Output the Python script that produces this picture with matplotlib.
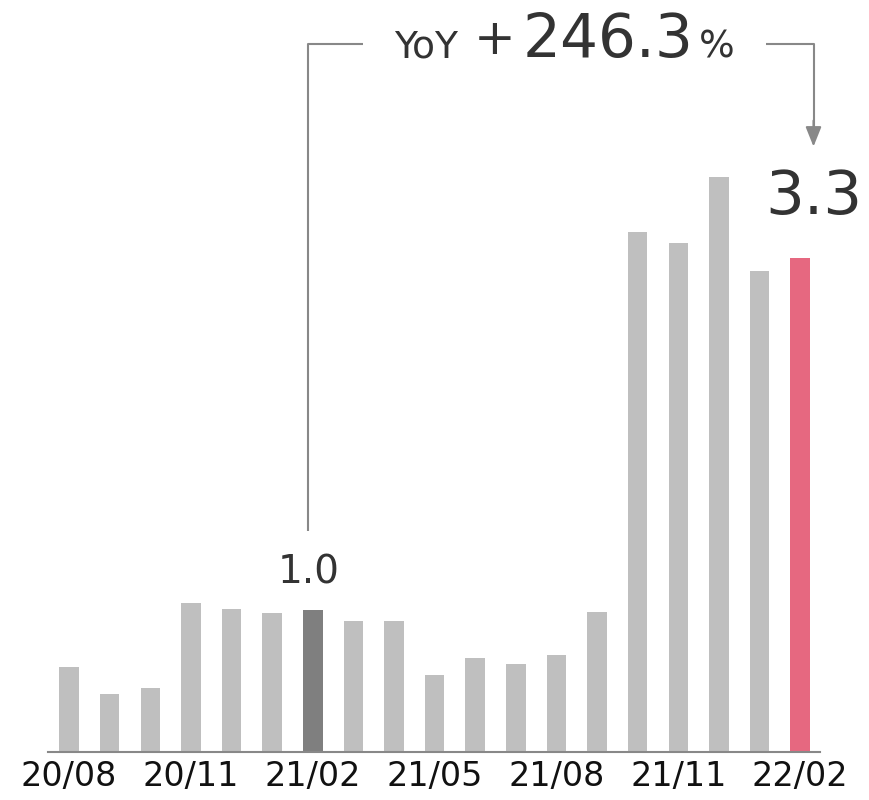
import matplotlib
matplotlib.use("Agg")
import matplotlib.pyplot as plt
import numpy as np

months = ["20/08", "20/09", "20/10", "20/11", "20/12", "21/01", "21/02",
          "21/03", "21/04", "21/05", "21/06", "21/07", "21/08", "21/09",
          "21/10", "21/11", "21/12", "22/01", "22/02"]
values = [0.63, 0.45, 0.49, 1.05, 1.01, 0.98, 1.0,
          0.93, 0.93, 0.58, 0.69, 0.65, 0.71, 0.99,
          3.47, 3.40, 3.83, 3.22, 3.3]
base_idx = 6      # 21/02, the comparison month
last_idx = 18     # 22/02
yoy_text = "246.3"

light = "#bfbfbf"
dark = "#7f7f7f"
pink = "#e66880"
line_col = "#888888"
txt_col = "#333333"

colors = [light] * len(values)
colors[base_idx] = dark
colors[last_idx] = pink

fig = plt.figure(figsize=(8.7, 8), dpi=100)
ax = fig.add_axes([48 / 870, 48 / 800, 772 / 870, 752 / 800])

x = np.arange(len(values))
ax.bar(x, values, width=0.48, color=colors)

ax.set_xlim(-0.52, 18.49)
ax.set_ylim(0.074, 4.988)

for s in ["top", "right", "left"]:
    ax.spines[s].set_visible(False)
ax.spines["bottom"].set_color(line_col)
ax.spines["bottom"].set_linewidth(1.5)
ax.set_yticks([])
ax.set_xticks(x[::3])
ax.set_xticklabels(months[::3], fontsize=24, color="#111111")
ax.tick_params(axis="x", length=0, pad=6)

# value labels
ax.annotate(f"{values[base_idx]:.1f}", xy=(base_idx - 0.11, values[base_idx]),
            xytext=(0, 19.5), textcoords="offset points",
            ha="center", va="baseline", fontsize=28, color=txt_col)
ax.annotate(f"{values[last_idx]:.1f}", xy=(last_idx + 0.33, values[last_idx]),
            xytext=(0, 32), textcoords="offset points",
            ha="center", va="baseline", fontsize=44, color=txt_col)

# YoY bracket
top_y = 4.70
lx = base_idx - 0.12
rx = last_idx + 0.33
ax.plot([lx, lx, 7.24], [1.52, top_y, top_y], color=line_col, lw=1.5,
        solid_capstyle="butt")
ax.plot([17.16, rx, rx], [top_y, top_y, 4.14], color=line_col, lw=1.5,
        solid_capstyle="butt")
ax.annotate("", xy=(rx, 4.03), xytext=(rx, 4.2),
            arrowprops=dict(arrowstyle="-|>,head_length=1.0,head_width=0.4",
                            mutation_scale=12, color=line_col, lw=1.5,
                            shrinkA=0, shrinkB=0))

base_y = 1 - 57 / 800
fig.text(394 / 870, base_y, "YoY", fontsize=27, color=txt_col, va="baseline")
fig.text(474 / 870, base_y + 0.004, "+", fontsize=36, color=txt_col, va="baseline")
fig.text(523 / 870, base_y, yoy_text, fontsize=43, color=txt_col, va="baseline")
fig.text(699 / 870, base_y, "%", fontsize=27, color=txt_col, va="baseline")

fig.savefig("out.png", dpi=100)
